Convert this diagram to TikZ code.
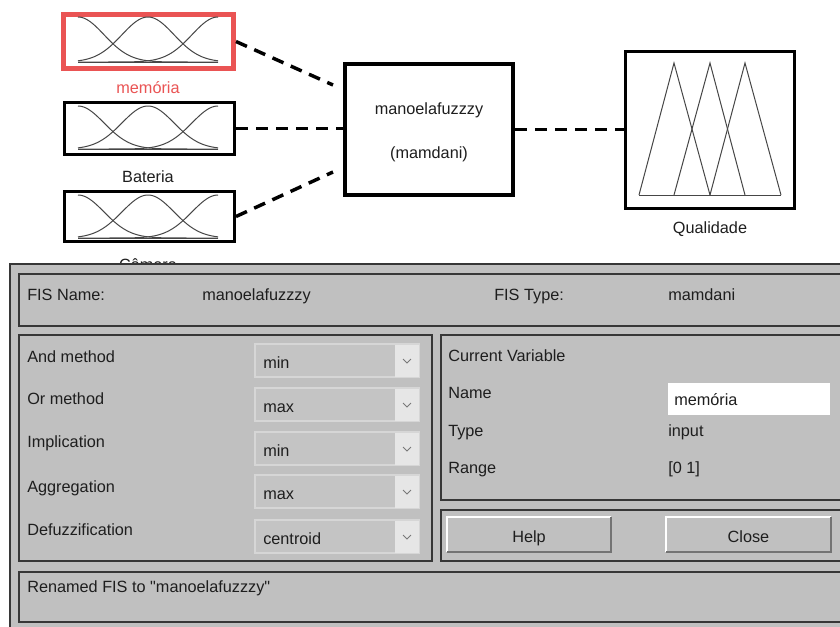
\documentclass[tikz,border=0pt]{standalone}
\usepackage{fontspec}
\setmainfont{Liberation Sans}
\definecolor{panel}{RGB}{192,192,192}
\definecolor{edge}{RGB}{55,55,55}
\definecolor{memred}{RGB}{234,84,84}
\definecolor{txt}{RGB}{30,30,30}
\definecolor{mfc}{RGB}{70,70,70}
\definecolor{ddfill}{RGB}{196,196,196}
\definecolor{ddedge}{RGB}{214,214,214}
\definecolor{ddarrow}{RGB}{230,230,230}
\definecolor{chevc}{RGB}{120,120,120}
\newcommand\mfrow[2]{%
  \draw[mf] plot[domain=78:218,samples=70] (\x,{#2-(#2-#1)*exp(-0.5*((\x-78)/26)^2)});
  \draw[mf] plot[domain=78:218,samples=70] (\x,{#2-(#2-#1)*exp(-0.5*((\x-148)/26)^2)});
  \draw[mf] plot[domain=78:218,samples=70] (\x,{#2-(#2-#1)*exp(-0.5*((\x-218)/26)^2)});
  \draw[mf] (78,#2) -- (218,#2);
}
\begin{document}
\begin{tikzpicture}[x=0.75pt,y=-0.75pt,
  lbl/.style={font=\fontsize{12.2}{14}\selectfont, text=txt, inner sep=0pt},
  mf/.style={draw=mfc, line width=0.75pt},
  inbox/.style={draw=black, line width=2.25pt, fill=white, minimum width=170*0.75pt, inner sep=0pt},
  conn/.style={draw=black, line width=2.6pt, dash pattern=on 9pt off 6pt},
  grp/.style={draw=edge, line width=1.1pt, fill=panel},
  ddbox/.style={draw=ddedge, line width=0.8pt, fill=ddfill},
  btn/.style={fill=panel},
  chev/.style={draw=chevc, line width=0.7pt}]
\useasboundingbox (0,0) rectangle (840,626);
\clip (0,0) rectangle (840,626);
\fill[white] (0,0) rectangle (840,626);

% ---- upper diagram ----
\node[inbox, draw=memred, line width=3.75pt, minimum height=54*0.75pt] (mem) at (148.5,41.5) {};
\node[inbox, minimum height=52*0.75pt] (bat) at (149.5,128.5) {};
\node[inbox, minimum height=50*0.75pt] (cam) at (149.5,216.5) {};
\mfrow{17}{62}
\mfrow{106}{149}
\mfrow{195}{238}
\node[lbl, text=memred, anchor=base] (memlbl) at (148,93) {memória};
\node[lbl, anchor=base] (batlbl) at (148,182) {Bateria};
\node[lbl, anchor=base] (camlbl) at (148,270) {Câmera};

\node[draw=black, line width=3pt, fill=white, minimum width=168*0.75pt, minimum height=131*0.75pt, inner sep=0pt] (fis) at (429,129.5) {};
\node[lbl, anchor=base] (fisname) at (429,114) {manoelafuzzzy};
\node[lbl, anchor=base] (fistype) at (429,158) {(mamdani)};

\node[draw=black, line width=2.25pt, fill=white, minimum width=169*0.75pt, minimum height=157*0.75pt, inner sep=0pt] (out) at (710,130) {};
\draw[mf] (639,195) -- (674,63) -- (710,195);
\draw[mf] (674,195) -- (710,63) -- (745,195);
\draw[mf] (710,195) -- (745,63) -- (781,195);
\draw[mf] (639,195) -- (781,195);
\node[lbl, anchor=base] (outlbl) at (710,233) {Qualidade};

\coordinate (fin1) at (333,85);
\coordinate (fin3) at (333,172);
\draw[conn] (mem.east) -- (fin1);
\draw[conn] (bat.east) -- (bat.east -| fis.west);
\draw[conn] (cam.east) -- (fin3);
\draw[conn] (fis.east) -- (fis.east -| out.west);

% ---- lower panel ----
\draw[grp] (10,264) rectangle (860,640);
\draw[grp] (19,274) rectangle (860,326);
\draw[grp] (19,335) rectangle (432,561);
\draw[grp] (441,335) rectangle (860,500);
\draw[grp] (441,510) rectangle (860,561);
\draw[grp] (19,572) rectangle (860,622);

\node[lbl, anchor=base west] (l1) at (27,300) {FIS Name:};
\node[lbl, anchor=base west] (v1) at (202,300) {manoelafuzzzy};
\node[lbl, anchor=base west] (l2) at (494,300) {FIS Type:};
\node[lbl, anchor=base west] (v2) at (668,300) {mamdani};

\node[lbl, anchor=base west] (m1) at (27,362) {And method};
\node[lbl, anchor=base west] (m2) at (27,404) {Or method};
\node[lbl, anchor=base west] (m3) at (27,447) {Implication};
\node[lbl, anchor=base west] (m4) at (27,492) {Aggregation};
\node[lbl, anchor=base west] (m5) at (27,535) {Defuzzification};

\foreach \t/\v/\n in {344/min/1,388/max/2,432/min/3,475/max/4,520/centroid/5}{
  \draw[ddbox] (255,\t) rectangle (419,{\t+33});
  \fill[ddarrow] (395,{\t+0.5}) rectangle (418.5,{\t+32.5});
  \draw[chev] (403,{\t+15}) -- (407,{\t+19}) -- (411,{\t+15});
  \node[lbl, anchor=base west] (dd\n) at (263,{\t+24}) {\v};
}

\node[lbl, anchor=base west] (cv) at (448,361) {Current Variable};
\node[lbl, anchor=base west] (nm) at (448,398) {Name};
\node[lbl, anchor=base west] (ty) at (448,436) {Type};
\node[lbl, anchor=base west] (rg) at (448,473) {Range};
\fill[white] (668,383) rectangle (830,415);
\node[lbl, anchor=base west] (nmv) at (674,405) {memória};
\node[lbl, anchor=base west] (tyv) at (668,436) {input};
\node[lbl, anchor=base west] (rgv) at (668,473) {[0 1]};

\foreach \a/\b/\nm/\tx in {447/611/help/Help,666/831/close/Close}{
  \fill[btn] (\a,517) rectangle (\b,552);
  \draw[white, line width=1.2pt] (\a,552) -- (\a,517) -- (\b,517);
  \draw[edge!70, line width=1.2pt] (\a,552) -- (\b,552) -- (\b,517);
  \node[lbl, anchor=base] (\nm) at ({(\a+\b)/2},542) {\tx};
}

\node[lbl, anchor=base west] (status) at (27,592) {Renamed FIS to \textquotedbl manoelafuzzzy\textquotedbl};
\end{tikzpicture}
\end{document}
